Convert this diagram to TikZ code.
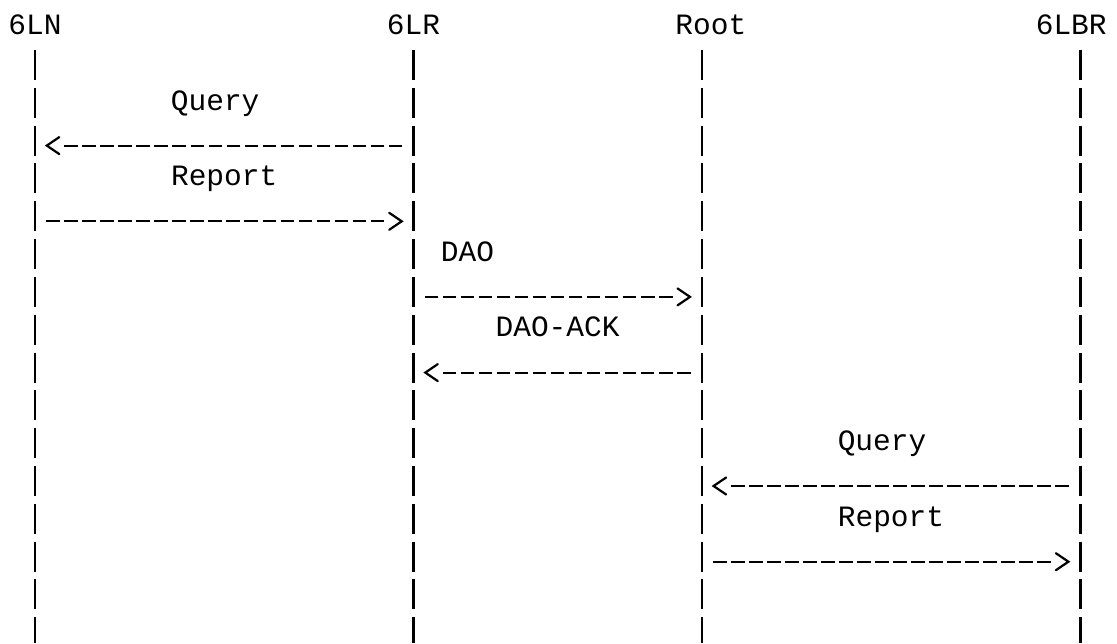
\documentclass[tikz,border=0pt]{standalone}
\usepackage{fontspec}
\setmonofont{Liberation Mono}
\usetikzlibrary{calc,positioning}

\begin{document}
\begin{tikzpicture}[x=1pt, y=-1pt,
        actor/.style={font=\ttfamily\fontsize{29.5}{31}\selectfont, anchor=base, inner sep=0pt},
        msgtext/.style={font=\ttfamily\fontsize{29.5}{31}\selectfont, anchor=base, inner sep=0pt},
        life/.style={line width=2.6pt, dash pattern=on 30pt off 7.82pt},
        msg/.style={line width=2.2pt, dash pattern=on 13.5pt off 4.52pt, shorten <=11.27pt, shorten >=29.3pt},
        chev/.style={line width=2.2pt, line cap=round, line join=miter}]
        \useasboundingbox (0,0) rectangle (1117,643);

        % actors
        \node[actor] (ln) at (35.0, 34.3) {6LN};
        \node[actor] (lr) at (413.5, 34.3) {6LR};
        \node[actor] (rt) at (710.8, 34.3) {Root};
        \node[actor] (br) at (1071.2, 34.3) {6LBR};

        % lifelines
        \coordinate (ln-top) at (35.0, 50);
        \coordinate (lr-top) at (413.5, 50);
        \coordinate (rt-top) at (701.8, 50);
        \coordinate (br-top) at (1080.2, 50);
        \coordinate (ln-bot) at (ln-top |- 0,643);
        \coordinate (lr-bot) at (lr-top |- 0,643);
        \coordinate (rt-bot) at (rt-top |- 0,643);
        \coordinate (br-bot) at (br-top |- 0,643);

        \draw[life] (ln-top) -- (ln-bot);
        \draw[life] (lr-top) -- (lr-bot);
        \draw[life] (rt-top) -- (rt-bot);
        \draw[life] (br-top) -- (br-bot);

        % message rows
        \coordinate (ln-3) at (ln-top |- 0,145.6);
        \coordinate (lr-3) at (lr-top |- 0,145.6);
        \coordinate (ln-5) at (ln-top |- 0,221.3);
        \coordinate (lr-5) at (lr-top |- 0,221.3);
        \coordinate (lr-7) at (lr-top |- 0,296.9);
        \coordinate (rt-7) at (rt-top |- 0,296.9);
        \coordinate (lr-9) at (lr-top |- 0,372.6);
        \coordinate (rt-9) at (rt-top |- 0,372.6);
        \coordinate (rt-12) at (rt-top |- 0,486.0);
        \coordinate (br-12) at (br-top |- 0,486.0);
        \coordinate (rt-14) at (rt-top |- 0,561.7);
        \coordinate (br-14) at (br-top |- 0,561.7);

        % 6LN <-> 6LR
        \node[msgtext] (query1) at (215.2, 110.0) {Query};
        \draw[msg] (lr-3) -- (ln-3);
        \draw[chev] (ln-3) ++(24.3,-8.5) -- ++(-12.5,8.5) -- ++(12.5,8.5);

        \node[msgtext] (report1) at (224.2, 185.6) {Report};
        \draw[msg] (ln-5) -- (lr-5);
        \draw[chev] (lr-5) ++(-24.3,-8.5) -- ++(12.5,8.5) -- ++(-12.5,8.5);

        % 6LR <-> Root
        \node[msgtext] (dao) at (467.5, 261.2) {DAO};
        \draw[msg] (lr-7) -- (rt-7);
        \draw[chev] (rt-7) ++(-24.3,-8.5) -- ++(12.5,8.5) -- ++(-12.5,8.5);

        \node[msgtext] (daoack) at (557.6, 336.9) {DAO-ACK};
        \draw[msg] (rt-9) -- (lr-9);
        \draw[chev] (lr-9) ++(24.3,-8.5) -- ++(-12.5,8.5) -- ++(12.5,8.5);

        % Root <-> 6LBR
        \node[msgtext] (query2) at (882.0, 450.3) {Query};
        \draw[msg] (br-12) -- (rt-12);
        \draw[chev] (rt-12) ++(24.3,-8.5) -- ++(-12.5,8.5) -- ++(12.5,8.5);

        \node[msgtext] (report2) at (891.0, 526.0) {Report};
        \draw[msg] (rt-14) -- (br-14);
        \draw[chev] (br-14) ++(-24.3,-8.5) -- ++(12.5,8.5) -- ++(-12.5,8.5);
\end{tikzpicture}
\end{document}
